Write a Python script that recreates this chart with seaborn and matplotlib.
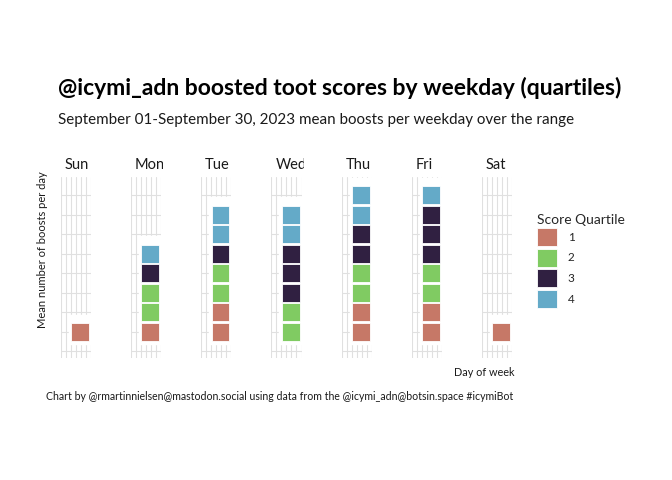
import numpy as np
import pandas as pd
import matplotlib as mpl
mpl.use('Agg')
import matplotlib.pyplot as plt
from matplotlib.patches import Patch
from matplotlib.transforms import Bbox, TransformedBbox
import seaborn as sns

# tiles per weekday, split by score quartile (stacked bottom -> top)
days = ['Sun', 'Mon', 'Tue', 'Wed', 'Thu', 'Fri', 'Sat']
q1 = [1, 1, 2, 0, 2, 2, 1]
q2 = [0, 2, 2, 2, 2, 2, 0]
q3 = [0, 1, 1, 3, 2, 3, 0]
q4 = [0, 1, 2, 2, 2, 1, 0]
quartiles = ['1', '2', '3', '4']
pal = {'1': '#C67867', '2': '#80CB62', '3': '#302041', '4': '#64AAC8'}


def build_frame():
    rows = []
    for i, d in enumerate(days):
        counts = [q1[i], q2[i], q3[i], q4[i]]
        y = 1
        for q, c in zip(quartiles, counts):
            for _ in range(c):
                rows.append({'day': d, 'quartile': q, 'x': 3.85, 'y': y})
                y += 1
    return pd.DataFrame(rows)


def main():
    df = build_frame()
    sns.set_theme(style='white')
    plt.rcParams['font.family'] = ['Lato', 'DejaVu Sans']

    fig = plt.figure(figsize=(6.72, 4.8), dpi=100)
    W, H = 672, 480
    grid_col = '#E0E0E0'

    for i, d in enumerate(days):
        left = 60.7 + 70.2 * i
        ax = fig.add_axes([left / W, 1 - 358 / H, 30.2 / W, (358 - 177) / H])
        ax.set_xlim(0, 6)
        ax.set_ylim(-0.35, 8.93)
        for v in range(7):
            ax.axvline(v, color=grid_col, lw=0.8, zorder=0)
        for h in range(9):
            ax.axhline(h, color=grid_col, lw=0.8, zorder=0)
        sub = df[df['day'] == d]
        n = len(sub)
        # white tile borders hide the grid behind the stack
        ax.bar(3.8, n + 0.5, bottom=0.38, width=4.4, color='white', zorder=1)
        sns.scatterplot(data=sub, x='x', y='y', hue='quartile', palette=pal,
                        hue_order=quartiles, marker='s', s=165,
                        edgecolor='white', linewidth=0.6, legend=False,
                        ax=ax, zorder=2, clip_on=False)
        ax.set_xlabel('')
        ax.set_ylabel('')
        ax.set_xticks([])
        ax.set_yticks([])
        for sp in ax.spines.values():
            sp.set_visible(False)
        t = ax.text(4.0 / 30.2, 1.0 + 12 / 181, d, transform=ax.transAxes,
                    ha='left', va='center', fontsize=10.5, color='#1a1a1a')
        t.set_clip_box(TransformedBbox(Bbox([[-0.5, 1.0], [1.07, 1.3]]), ax.transAxes))
        t.set_clip_on(True)

    fig.text(58 / W, 1 - 88 / H, '@icymi_adn boosted toot scores by weekday (quartiles)',
             fontsize=16.5, fontweight='bold', ha='left', va='center', color='black')
    fig.text(58 / W, 1 - 120 / H, 'September 01-September 30, 2023 mean boosts per weekday over the range',
             fontsize=10.9, ha='left', va='center', color='#1a1a1a')
    fig.text(43 / W, 1 - 250 / H, 'Mean number of boosts per day', rotation=90,
             fontsize=8, ha='center', va='center', color='#1a1a1a')
    fig.text(514 / W, 1 - 372 / H, 'Day of week', fontsize=7.8, ha='right', va='center',
             color='#1a1a1a')
    fig.text(46 / W, 1 - 397 / H,
             'Chart by @rmartinnielsen@mastodon.social using data from the @icymi_adn@botsin.space #icymiBot',
             fontsize=7.6, ha='left', va='center', color='#1a1a1a')

    handles = [Patch(facecolor=pal[q], edgecolor='white', lw=0.6) for q in quartiles]
    leg = fig.legend(handles, quartiles, title='Score Quartile', loc='upper left',
                     bbox_to_anchor=(526 / W, 1 - 203 / H), frameon=False,
                     fontsize=8.5, title_fontsize=10, handlelength=1.75,
                     handleheight=2.0, labelspacing=0.2, handletextpad=0.9)
    leg._legend_box.align = 'left'

    fig.savefig('out.png', dpi=100)


if __name__ == '__main__':
    main()
